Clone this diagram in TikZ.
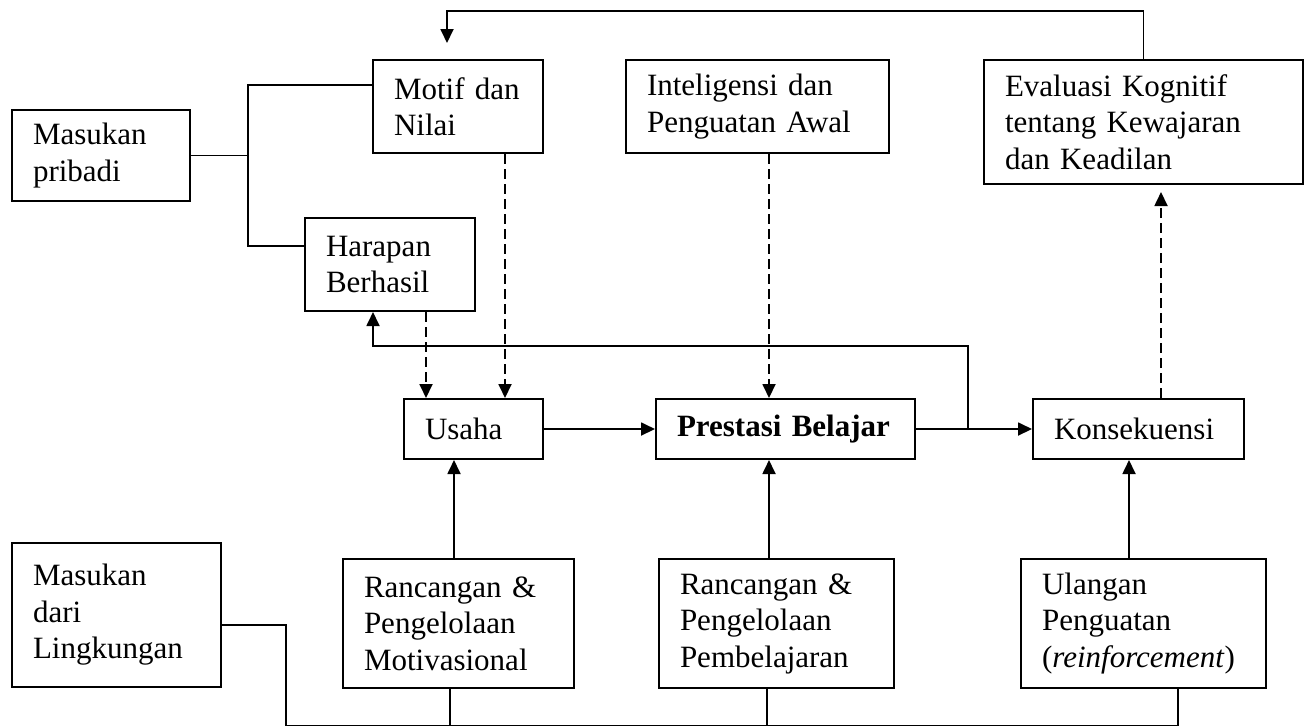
\documentclass[tikz,border=0pt]{standalone}
\usepackage{fontspec}
\setmainfont{Liberation Serif}
\usetikzlibrary{arrows.meta}

\begin{document}
\begin{tikzpicture}[x=0.5pt,y=-0.5pt,
  box/.style={draw, line width=1pt, rectangle, anchor=north west,
    inner xsep=10.5pt, inner ysep=0pt, align=left,
    font=\fontsize{15.5}{18.25}\selectfont},
  link/.style={line width=0.9pt},
  arr/.style={link, -{Triangle[length=7pt,width=6.5pt]}},
  dasharr/.style={arr, dash pattern=on 5pt off 2.5pt},
]
\useasboundingbox (0,0) rectangle (1309,725);

% personal inputs and their two components
\node[box, text width=68pt,  minimum height=45.5pt] (mp)     at (11,109)  {Masukan\\pribadi};
\node[box, text width=64pt,  minimum height=46.5pt] (motif)  at (372,59)  {Motif dan\\Nilai};
\node[box, text width=64pt,  minimum height=46.5pt] (harap)  at (304,217) {Harapan\\Berhasil};
\node[box, text width=110.5pt, minimum height=46.5pt] (intel) at (625,59) {Inteligensi dan\\Penguatan Awal};
\node[box, text width=138.5pt, minimum height=62pt] (eval)   at (983,59)  {Evaluasi Kognitif\\tentang Kewajaran\\dan Keadilan};

% main chain
\node[box, text width=48.5pt,  minimum height=30pt] (usaha)  at (403,398)  {Usaha};
\node[box, text width=108.5pt, minimum height=30pt] (prest)  at (655,398)  {\textbf{Prestasi Belajar}};
\node[box, text width=84.5pt,  minimum height=30pt] (konsek) at (1032,398) {Konsekuensi};

% environmental inputs
\node[box, text width=83.5pt,  minimum height=72pt]   (mdl)   at (11,542)   {Masukan\\dari\\Lingkungan};
\node[box, text width=94.5pt,  minimum height=64.5pt] (rmot)  at (342,558)  {Rancangan \&\\Pengelolaan\\Motivasional};
\node[box, text width=96.5pt,  minimum height=64.5pt] (rpemb) at (658,558)  {Rancangan \&\\Pengelolaan\\Pembelajaran};
\node[box, text width=101.5pt, minimum height=64.5pt] (ulang) at (1020,558) {Ulangan\\Penguatan\\(\textit{reinforcement})};

% personal inputs branch to motives and expectancy
\draw[link] (mp.east) -- ++(57,0) coordinate (j);
\draw[link] ([yshift=10.75pt]motif.west) -| (j) |- ([yshift=9.25pt]harap.west);

% dashed influences
\draw[dasharr] ([xshift=23.5pt]motif.south) -- ([xshift=23.5pt]motif.south |- usaha.north);
\draw[dasharr] ([xshift=18pt]harap.south) -- ([xshift=18pt]harap.south |- usaha.north);
\draw[dasharr] ([xshift=5.75pt]intel.south) -- ([xshift=5.75pt]intel.south |- prest.north);
\draw[dasharr, shorten >=3.5pt] ([xshift=11.25pt]konsek.north) -- ([xshift=11.25pt]konsek.north |- eval.south);

% main chain arrows
\draw[arr] (usaha.east) -- (prest.west);
\draw[arr] (prest.east) -- (konsek.west);

% feedback to expectancy
\coordinate (fb) at ([xshift=26pt]prest.east);
\draw[arr] (fb) -- ++(0,-83) -| ([xshift=-8.5pt]harap.south);

% feedback from evaluation to motives
\draw[arr, shorten >=8pt] (eval.north) -- ++(0,-48) -| ([xshift=-5.5pt]motif.north);

% design boxes feed the main chain
\draw[arr] ([xshift=-2.25pt]rmot.north) -- ([xshift=-2.25pt]rmot.north |- usaha.south);
\draw[arr] ([xshift=-3.75pt]rpemb.north) -- ([xshift=-3.75pt]rpemb.north |- prest.south);
\draw[arr] ([xshift=-7.25pt]ulang.north) -- ([xshift=-7.25pt]ulang.north |- konsek.south);

% environmental input bus
\draw[link] ([xshift=17.25pt]ulang.south) -- ++(0,36.5) coordinate (bend);
\draw[link] ([yshift=-5pt]mdl.east) -- ++(64,0) |- (bend);
\draw[link] ([xshift=-4.25pt]rmot.south) -- ([xshift=-4.25pt]rmot.south |- bend);
\draw[link] ([xshift=-4.75pt]rpemb.south) -- ([xshift=-4.75pt]rpemb.south |- bend);
\end{tikzpicture}
\end{document}
